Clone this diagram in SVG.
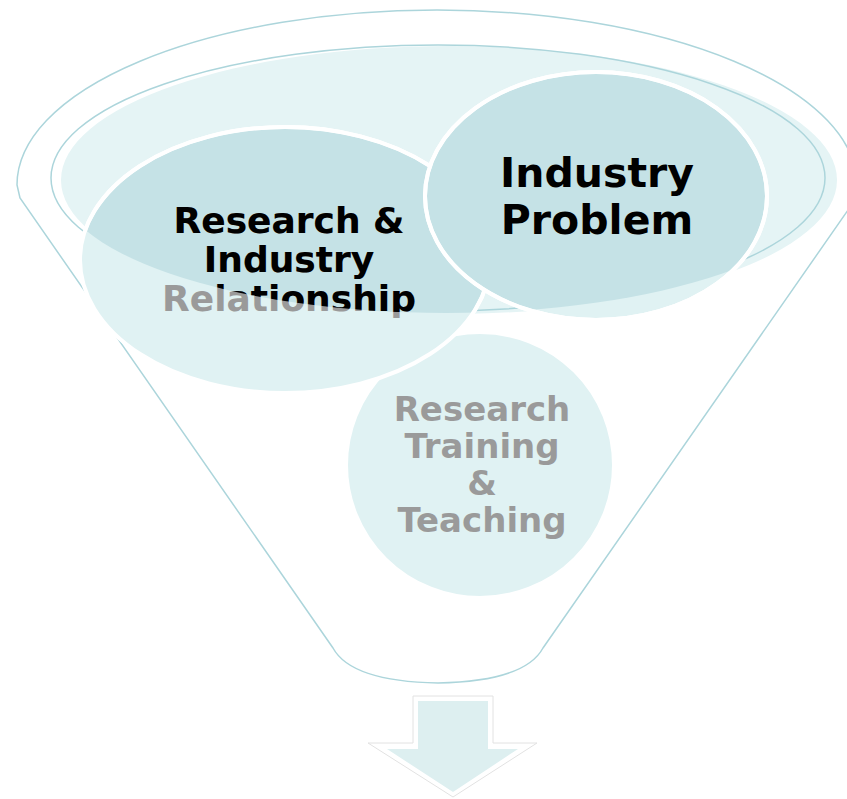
<svg xmlns="http://www.w3.org/2000/svg" width="847" height="799" viewBox="0 0 847 799">
  <defs>
    <style>
      .lbl { font-family: "DejaVu Sans", Verdana, sans-serif; font-weight: bold; text-anchor: middle; }
      .blk { fill: #000000; }
      .gry { fill: #9a9a9a; }
      .circ { stroke: #ffffff; stroke-width: 4; }
      .light { fill: #e0f2f3; }
      .dark { fill: #c5e2e6; }
    </style>
    <clipPath id="mouth">
      <ellipse cx="446" cy="179" rx="390" ry="134"/>
    </clipPath>
  </defs>
  <rect width="847" height="799" fill="#ffffff"/>

  <g id="funnel">
    <path d="M 20 198 L 17 185 A 420 175 0 0 1 857 185 L 855 200 L 543 648 C 530 672 490 682 438 683 C 386 682 346 672 333 648 Z" fill="#ffffff" stroke="#acd5db" stroke-width="1.5"/>
    <ellipse cx="449" cy="180" rx="388" ry="134" fill="#e5f4f5"/>
    <ellipse cx="438" cy="178" rx="387" ry="133" fill="none" stroke="#acd5db" stroke-width="1.5"/>
  </g>

  <g id="node-teaching">
    <ellipse class="circ light" cx="480" cy="465" rx="134" ry="133"/>
    <text class="lbl gry" font-size="34" x="482" y="421">Research</text>
    <text class="lbl gry" font-size="34" x="482" y="458">Training</text>
    <text class="lbl gry" font-size="34" x="482" y="495">&amp;</text>
    <text class="lbl gry" font-size="34" x="482" y="532">Teaching</text>
  </g>

  <g id="node-relationship">
    <ellipse class="circ light" cx="285" cy="260" rx="205" ry="133"/>
    <ellipse class="dark" cx="285" cy="260" rx="203" ry="131" clip-path="url(#mouth)"/>
    <ellipse cx="285" cy="260" rx="205" ry="133" fill="none" stroke="#ffffff" stroke-width="4" clip-path="url(#mouth)"/>
  </g>

  <g id="node-problem">
    <ellipse class="circ light" cx="596" cy="196" rx="171" ry="124"/>
    <ellipse class="dark" cx="596" cy="196" rx="169" ry="122" clip-path="url(#mouth)"/>
    <ellipse cx="596" cy="196" rx="171" ry="124" fill="none" stroke="#ffffff" stroke-width="4"/>
    <text class="lbl blk" font-size="41" x="597" y="187">Industry</text>
    <text class="lbl blk" font-size="41" x="597" y="234">Problem</text>
  </g>

  <g id="label-relationship">
    <text class="lbl gry" font-size="36" x="289" y="233">Research &amp;</text>
    <text class="lbl gry" font-size="36" x="289" y="272">Industry</text>
    <text class="lbl gry" font-size="36" x="289" y="311">Relationship</text>
    <g clip-path="url(#mouth)">
      <text class="lbl blk" font-size="36" x="289" y="233">Research &amp;</text>
      <text class="lbl blk" font-size="36" x="289" y="272">Industry</text>
      <text class="lbl blk" font-size="36" x="289" y="311">Relationship</text>
    </g>
  </g>

  <g id="arrow">
    <path d="M 413 696 H 493 V 743 H 537 L 453 797 L 368 743 H 413 Z" fill="#ffffff" stroke="#e2e2e2" stroke-width="1"/>
    <path d="M 418 701 H 488 V 749 H 518 L 453 792 L 387 749 H 418 Z" fill="#ddeff0"/>
  </g>
</svg>
